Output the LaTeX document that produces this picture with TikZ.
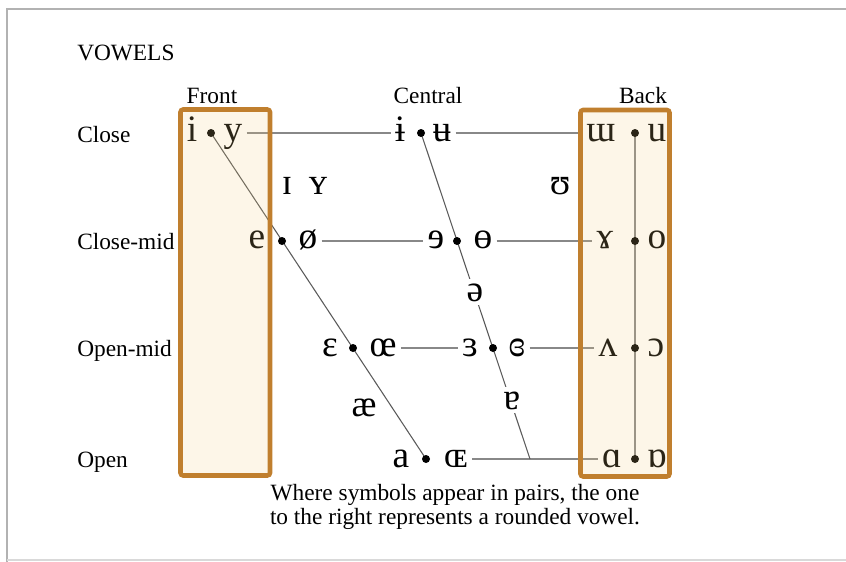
\documentclass[tikz,border=0pt]{standalone}
\usepackage{fontspec}
\setmainfont{Liberation Serif}
\newfontfamily\ipafont{Liberation Serif}
\definecolor{boxorange}{HTML}{C07F2E}
\definecolor{boxfill}{HTML}{F2CF80}
\definecolor{lgray}{HTML}{888888}
\definecolor{dgray}{HTML}{5A5A5A}
\begin{document}
\begin{tikzpicture}[x=0.75pt,y=-0.75pt,
  lab/.style={font=\fontsize{17.5}{18}\selectfont, inner sep=0pt},
  sym/.style={font=\fontsize{28}{32}\selectfont\ipafont, inner xsep=3pt, inner ysep=1pt, anchor=base},
  symw/.style={sym, fill=white, inner sep=3pt},
  dotc/.style={circle, fill=black, inner sep=0pt, minimum size=6pt},
  conn/.style={draw=lgray, line width=0.9pt},
  diag/.style={draw=dgray, line width=0.8pt},
  vbox/.style={draw=boxorange, line width=3.4pt, rounded corners=2pt},
  frame/.style={line width=1.5pt}]
\useasboundingbox (0,0) rectangle (846,561);
% page frame shadow
\draw[frame, draw=black!30] (7,862) -- (7,8.5) -- (860,8.5);
\draw[frame, draw=black!15] (7,559.5) -- (860,559.5);

% headings
\node[lab, anchor=base west] (title) at (77,60) {VOWELS};
\node[lab, anchor=base] (front) at (212,103) {Front};
\node[lab, anchor=base] (central) at (428,103) {Central};
\node[lab, anchor=base] (back) at (643,103) {Back};
\node[lab, anchor=base west] (lclose) at (77,142) {Close};
\node[lab, anchor=base west] (lclosemid) at (77,249) {Close-mid};
\node[lab, anchor=base west] (lopenmid) at (77,356) {Open-mid};
\node[lab, anchor=base west] (lopen) at (77,467) {Open};

% vowel points
\coordinate (f1) at (211,133);
\coordinate (f2) at (282,241);
\coordinate (f3) at (353,348);
\coordinate (f4) at (426,459);
\coordinate (c1) at (421,133);
\coordinate (c2) at (457,241);
\coordinate (c3) at (493,348);
\coordinate (c4) at (530,459);
\coordinate (b1) at (635,133);
\coordinate (b2) at (635,241);
\coordinate (b3) at (635,348);
\coordinate (b4) at (635,459);

% symbols
\node[sym] (i) at (192,141) {i};
\node[sym] (y) at (233,141) {y};
\node[sym] (barI) at (400,141) {ɨ};
\node[sym] (barU) at (442,141) {ʉ};
\node[sym] (turnM) at (601,141) {ɯ};
\node[sym] (u) at (657,141) {u};

\node[sym] (e) at (257,248) {e};
\node[sym] (oslash) at (308,248) {ø};
\node[sym] (revE) at (436,248) {ɘ};
\node[sym] (barO) at (483,248) {ɵ};
\node[sym] (ramsH) at (605,248) {ɤ};
\node[sym] (o) at (657,248) {o};

\node[sym] (eps) at (330,356) {ɛ};
\node[sym] (oe) at (383,356) {œ};
\node[sym] (revEps) at (470,356) {ɜ};
\node[sym] (closedEps) at (517,356) {ɞ};
\node[sym] (turnV) at (608,356) {ʌ};
\node[sym] (openO) at (656,356) {ɔ};

\node[sym] (a) at (401,467) {a};
\node[sym] (OE) at (456,467) {ɶ};
\node[sym] (alpha) at (612,467) {ɑ};
\node[sym] (turnAlpha) at (657,467) {ɒ};

\node[sym] (smallI) at (287,194) {ɪ};
\node[sym] (smallY) at (318,194) {ʏ};
\node[sym] (upsilon) at (560,194) {ʊ};
\node[sym] (ae) at (364,416) {æ};

% connectors
\draw[conn] (y.east |- f1) -- (barI.west |- f1);
\draw[conn] (barU.east |- c1) -- (turnM.west |- b1);
\draw[conn] (oslash.east |- f2) -- (revE.west |- c2);
\draw[conn] (barO.east |- c2) -- (ramsH.west |- b2);
\draw[conn] (oe.east |- f3) -- (revEps.west |- c3);
\draw[conn] (closedEps.east |- c3) -- (turnV.west |- b3);
\draw[conn] (OE.east |- f4) -- (alpha.west |- b4);
\draw[conn] (b1) -- (b4);
\draw[diag] (f1) -- (f4);
\draw[diag] (c1) -- (c4);

% central symbols sitting on the line
\node[symw] (schwa) at (475,301) {ə};
\node[symw] (turnA) at (512,409) {ɐ};

% dots
\foreach \p in {f1,f2,f3,f4,c1,c2,c3,b1,b2,b3,b4}
  \node[dotc] (dot-\p) at (\p) {};

% highlight boxes
\fill[boxfill, fill opacity=0.18] (180.5,109.5) rectangle (270,475.5);
\fill[boxfill, fill opacity=0.18] (580.5,110) rectangle (669.5,476.5);
\draw[vbox] (180.5,109.5) rectangle (270,475.5);
\draw[vbox] (580.5,110) rectangle (669.5,476.5);

% note
\node[lab, align=center, font=\fontsize{17.5}{18}\selectfont] (note) at (455,507)
  {Where symbols appear in pairs, the one\\to the right represents a rounded vowel.};
\end{tikzpicture}
\end{document}
